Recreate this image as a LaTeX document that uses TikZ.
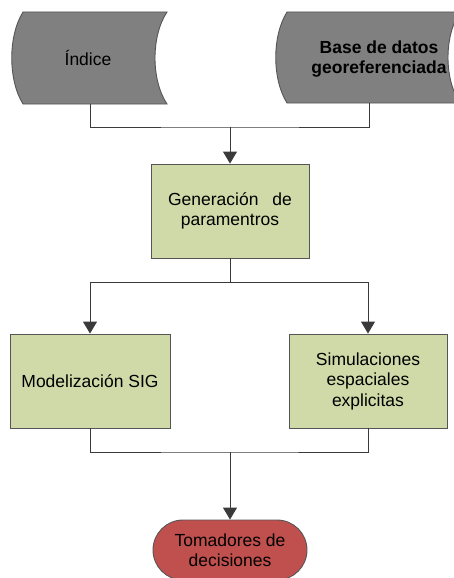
\documentclass[tikz,border=0pt]{standalone}
\usepackage{fontspec}
\setmainfont{Liberation Sans}
\usetikzlibrary{arrows.meta,shapes.misc}
\definecolor{storegray}{HTML}{808080}
\definecolor{boxgreen}{HTML}{CFDAA8}
\definecolor{ovalred}{HTML}{C0504D}
\definecolor{edgegray}{HTML}{555555}
\definecolor{linegray}{HTML}{3A3A3A}
\tikzset{
  txt/.style={font=\fontsize{17.5}{20.5}\selectfont, align=center, inner sep=0pt},
  greenbox/.style={draw=edgegray, line width=0.9pt, fill=boxgreen, rectangle, minimum width=#1, minimum height=94pt, txt},
  greenbox/.default=159pt,
  stored/.style={draw=edgegray, line width=0.9pt, fill=storegray},
  ovalbox/.style={draw=edgegray, line width=0.9pt, fill=ovalred, rounded rectangle, minimum width=154pt, minimum height=60pt, txt},
  conn/.style={draw=linegray, line width=0.9pt},
  arr/.style={conn, -{Triangle[length=12pt,width=14pt]}}
}
\begin{document}
\begin{tikzpicture}[x=1pt,y=-1pt]
\useasboundingbox (0,0) rectangle (454,578);
% stored data shapes
\path[stored] (23,12) -- (167,12) .. controls (151,36) and (151,80) .. (167,104) -- (23,104) .. controls (8,80) and (8,36) .. (23,12) -- cycle;
\path[stored] (287,12) -- (460,12) .. controls (444,36) and (444,79) .. (460,103) -- (287,103) .. controls (272,79) and (272,36) .. (287,12) -- cycle;
\node[txt] (idx) at (88,58) {Índice};
\node[txt, font=\fontsize{17.5}{20}\selectfont\bfseries] (base) at (379,59) {Base de datos\\georeferenciada};
\coordinate (iS) at (90,104);
\coordinate (bS) at (369,103);
\coordinate (j1) at (230,127);
% boxes
\node[greenbox=158pt] (gen) at (230,211) {Generación\hspace{14pt}de\\paramentros};
\node[greenbox=160pt] (mod) at (90,381) {Modelización SIG};
\node[greenbox=158pt] (sim) at (368,381) {Simulaciones\\espaciales\\explicitas};
\node[ovalbox] (dec) at (230,550) {Tomadores de\\decisiones};
\coordinate (j2) at (230,282);
\coordinate (j3) at (230,452);
% connectors
\draw[conn] (iS) |- (j1) -| (bS);
\draw[arr] (j1) -- (gen.north);
\draw[conn] (gen.south) -- (j2);
\draw[arr] (j2) -| (mod.north);
\draw[arr] (j2) -| (sim.north);
\draw[conn] (mod.south) |- (j3) -| (sim.south);
\draw[arr] (j3) -- (dec.north);
\end{tikzpicture}
\end{document}
